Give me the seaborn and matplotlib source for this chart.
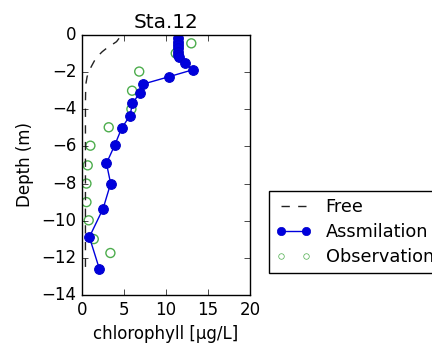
import matplotlib
matplotlib.use("Agg")
import matplotlib.pyplot as plt
import seaborn as sns
import pandas as pd
from matplotlib.lines import Line2D

plt.style.use("classic")
plt.rcParams["figure.facecolor"] = "white"
plt.rcParams["savefig.facecolor"] = "white"
plt.rcParams["font.family"] = ["DejaVu Sans"]

# Model layer depths (m)
model_depth = [-0.18, -0.36, -0.54, -0.72, -0.9, -1.08, -1.2, -1.53, -1.87, -2.24,
               -2.64, -3.1, -3.68, -4.34, -5.03, -5.92, -6.91, -8.0, -9.35, -10.88, -12.6]
free_chl = [4.4, 4.1, 3.5, 2.9, 2.4, 2.0, 1.7, 1.3, 0.9, 0.6,
            0.45, 0.42, 0.4, 0.4, 0.4, 0.4, 0.4, 0.4, 0.4, 0.4, 0.4]
assim_chl = [11.4, 11.4, 11.4, 11.4, 11.4, 11.4, 11.5, 12.2, 13.2, 10.4,
             7.3, 6.9, 6.0, 5.7, 4.7, 3.9, 2.9, 3.4, 2.5, 0.87, 2.06]
obs_depth = [-0.45, -0.99, -1.97, -3.0, -3.99, -4.97, -5.96, -7.02, -8.0, -9.0, -9.98, -10.99, -11.74]
obs_chl = [13.0, 11.15, 6.8, 5.95, 5.87, 3.17, 0.99, 0.67, 0.52, 0.52, 0.79, 1.39, 3.37]

model = pd.DataFrame({"depth": model_depth, "free": free_chl, "assim": assim_chl})
obs = pd.DataFrame({"depth": obs_depth, "chl": obs_chl})

fig = plt.figure(figsize=(4.32, 3.43), dpi=100)
ax = fig.add_axes([0.190, 0.140, 0.389, 0.758])

obs_color = (0.30, 0.68, 0.30)

sns.lineplot(data=model, x="free", y="depth", sort=False, estimator=None, ax=ax,
             color="#222222", linestyle="--", linewidth=1.0)
sns.lineplot(data=model, x="assim", y="depth", sort=False, estimator=None, ax=ax,
             color="#0000dd", linewidth=1.0, marker="o", markersize=7,
             markeredgecolor="#0000cc", markerfacecolor="#0000dd")
sns.scatterplot(data=obs, x="chl", y="depth", ax=ax, s=42, facecolor="none",
                edgecolor=obs_color, linewidth=1.0, marker="o")

ax.set_xlim(0, 20)
ax.set_ylim(-14, 0)
ax.set_xticks([0, 5, 10, 15, 20])
ax.set_yticks(range(-14, 1, 2))
ax.set_xlabel("chlorophyll [μg/L]", fontsize=12)
ax.set_ylabel("Depth (m)", fontsize=12)
ax.set_title("Sta.12", fontsize=14.4)
ax.tick_params(labelsize=12)

handles = [
    Line2D([], [], color="#222222", linestyle="--", linewidth=1.0),
    Line2D([], [], color="#0000dd", linewidth=1.0, marker="o", markersize=6,
           markerfacecolor="#0000dd", markeredgecolor="#0000cc"),
    Line2D([], [], color=obs_color, linestyle="none", marker="o", markersize=4,
           markerfacecolor="none", markeredgecolor=obs_color),
]
ax.legend(handles, ["Free", "Assmilation", "Observation"], loc="upper left",
          bbox_to_anchor=(1.11, 0.40), borderaxespad=0, numpoints=2,
          fontsize=12.8, labelspacing=0.4, frameon=True, fancybox=False)

fig.savefig("out.png", dpi=100)
